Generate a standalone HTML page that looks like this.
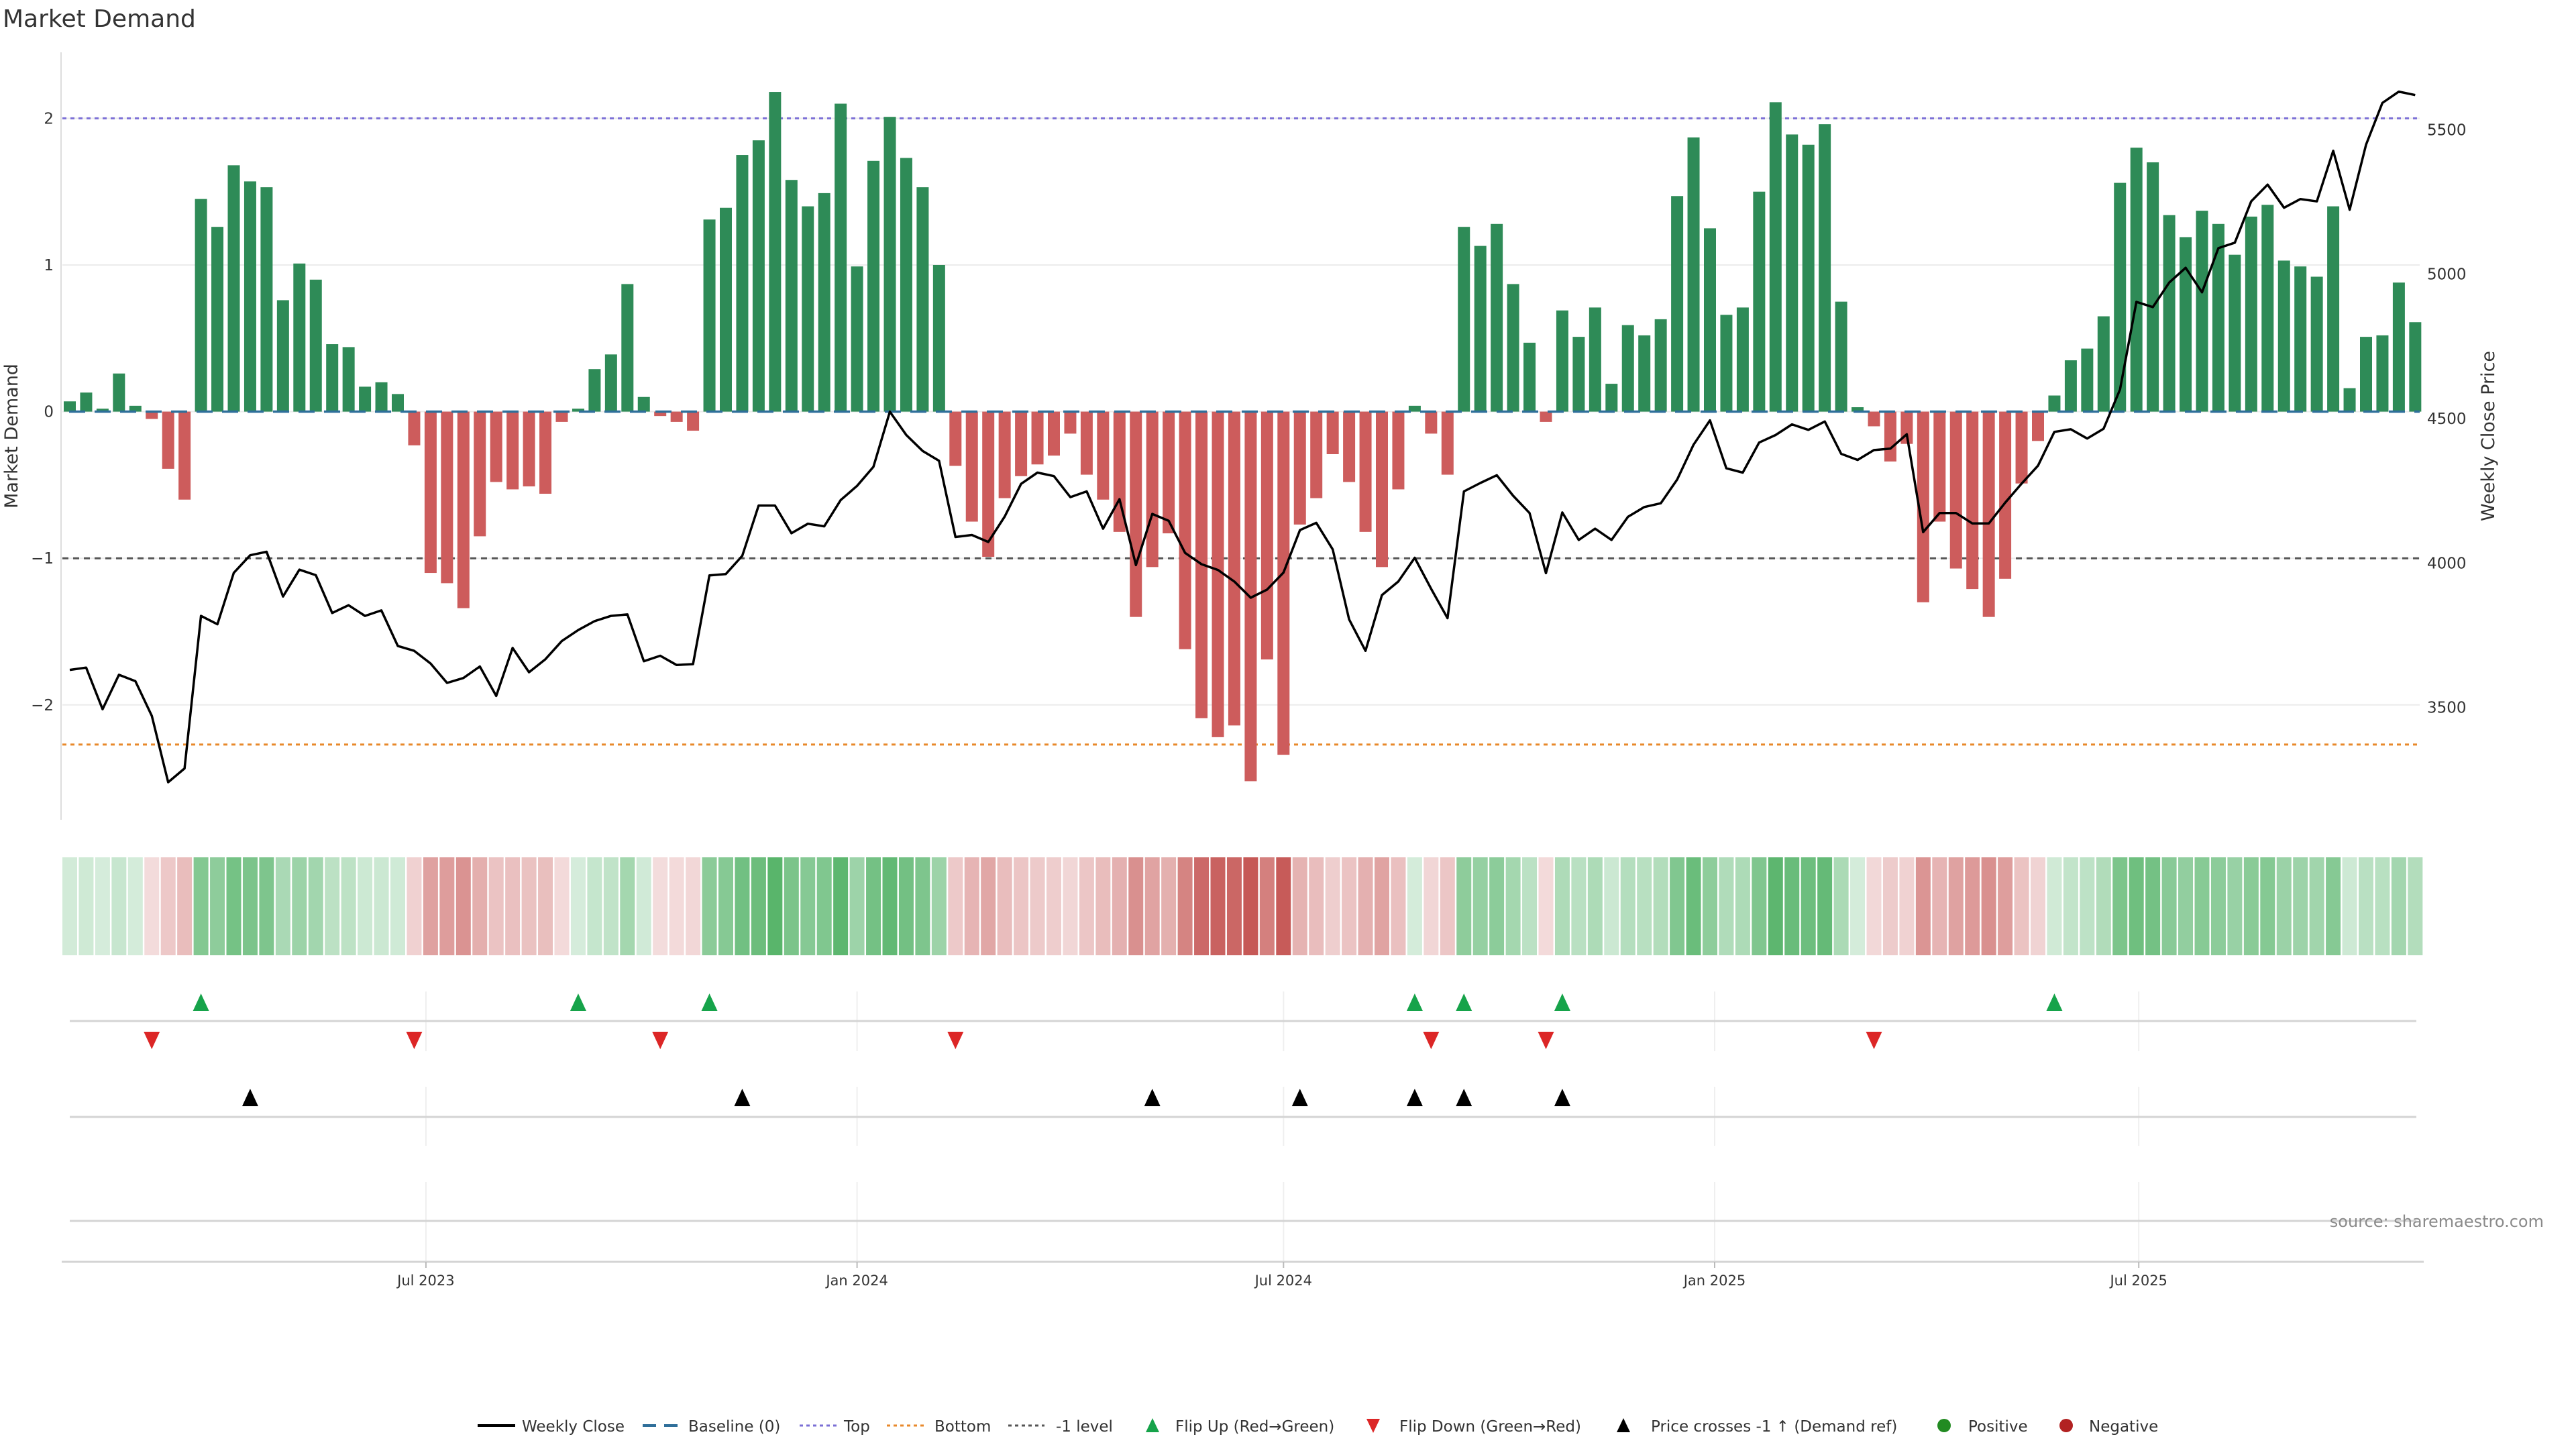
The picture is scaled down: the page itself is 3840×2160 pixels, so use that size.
<!DOCTYPE html>
<html><head><meta charset="utf-8"><style>
html,body{margin:0;padding:0;background:#fff;}
svg{display:block;font-family:"DejaVu Sans","Liberation Sans",sans-serif;}
</style></head><body>
<svg id="chart" width="3840" height="2160" viewBox="0 0 3840 2160" xmlns="http://www.w3.org/2000/svg">
<rect width="3840" height="2160" fill="#fff"/>
<text x="4" y="40" font-size="36" fill="#333">Market Demand</text>
<g id="main"></g>
<g id="heat"></g>
<g id="markers"></g>
<g id="legend"></g>
<text x="3792" y="1829" font-size="24" fill="#8a8a8a" text-anchor="end">source: sharemaestro.com</text>
</svg>
<script>
const demand = [0.07,0.13,0.02,0.26,0.04,-0.05,-0.39,-0.60,1.45,1.26,1.68,1.57,1.53,0.76,1.01,0.90,0.46,0.44,0.17,0.20,0.12,-0.23,-1.10,-1.17,-1.34,-0.85,-0.48,-0.53,-0.51,-0.56,-0.07,0.02,0.29,0.39,0.87,0.10,-0.03,-0.07,-0.13,1.31,1.39,
1.75,1.85,2.18,1.58,1.40,1.49,2.10,0.99,1.71,2.01,1.73,1.53,1.00,
-0.37,-0.75,-0.99,-0.59,-0.44,-0.36,-0.30,-0.15,-0.43,-0.60,-0.82,-1.40,-1.06,-0.83,-1.62,-2.09,-2.22,-2.14,-2.52,-1.69,-2.34,-0.77,-0.59,-0.29,
-0.48,-0.82,-1.06,-0.53,0.04,-0.15,-0.43,1.26,1.13,1.28,0.87,0.47,-0.07,0.69,0.51,0.71,0.19,0.59,0.52,0.63,1.47,1.87,1.25,0.66,0.71,1.50,2.11,1.89,1.82,1.96,0.75,0.03,-0.10,-0.34,-0.22,-1.30,-0.75,-1.07,-1.21,
-1.40,-1.14,-0.49,-0.20,0.11,0.35,0.43,0.65,1.56,1.80,1.70,1.34,1.19,1.37,1.28,1.07,1.33,1.41,1.03,0.99,0.92,1.40,0.16,0.51,0.52,0.88,0.61];
const price = [3630,3638,3494,3613,3591,3471,3241,3289,3817,3788,3966,4027,4039,3884,3977,3958,3827,3854,3817,3836,3713,3696,3652,3585,3602,3642,3540,3706,3622,3667,3730,3768,3799,3817,3822,3660,3679,3647,3650,3957,3962,
4025,4199,4199,4103,4136,4127,4218,4267,4333,4524,4443,4388,4354,4090,4097,4073,4161,4274,4313,4301,4228,4248,4119,4221,3993,4170,4146,4035,3996,3976,3936,3880,3908,3967,4114,4139,4047,
3805,3696,3889,3936,4018,3911,3809,4248,4277,4304,4233,4173,3965,4175,4080,4119,4080,4160,4194,4207,4289,4410,4494,4328,4313,4417,4443,4480,4461,4490,4378,4357,4391,4396,4446,4107,4173,4173,4137,
4137,4209,4275,4337,4454,4463,4431,4465,4601,4904,4886,4971,5022,4937,5090,5109,5252,5310,5230,5260,5252,5427,5223,5448,5593,5632,5620];
const flipUpIdx = [8,31,39,82,85,91,121];
const flipDownIdx = [5,21,36,54,83,90,110];
const crossIdx = [11,41,66,75,82,85,91];
const demandTicks = [2,1,0,-1,-2];
const demandTickLabels = ["2","1","0","\u22121","\u22122"];
const priceTicks = [3500,4000,4500,5000,5500];
const dateTicks = ["2023-07-01","2024-01-01","2024-07-01","2025-01-01","2025-07-01"];
const dateTickLabels = ["Jul 2023","Jan 2024","Jul 2024","Jan 2025","Jul 2025"];
const topLevel = 2, bottomLevel = -2.27, minusLevel = -1;

const NS = "http://www.w3.org/2000/svg";
const START = Date.UTC(2023,0,30);
const DAY = 86400000;
const PXDAY = 24.45/7;
function xDate(d){ return 104 + (d - START)/DAY*PXDAY; }
function xOf(i){ return xDate(START + i*7*DAY); }
function yD(v){ return 613.6 - v*218.6; }
function yP(p){ return 624 - (p-4500)*0.4306; }
const X0 = 93, X1 = 3607;
function mk(tag, attrs, parent){ const e=document.createElementNS(NS,tag); for(const k in attrs) e.setAttribute(k,attrs[k]); parent.appendChild(e); return e; }

const main = document.getElementById('main');
demandTicks.forEach((t,k)=>{
  const g = mk('line',{x1:X0,x2:X1,y1:yD(t),y2:yD(t),stroke:'#ececec','stroke-width':2},main);
  
  
  const lb = mk('text',{x:80,y:yD(t)+8,'font-size':23,fill:'#333','text-anchor':'end'},main);
  lb.textContent = demandTickLabels[k];
  
  
});
const sp = mk('line',{x1:X0-2,x2:X0-2,y1:78,y2:1222,stroke:'#ddd','stroke-width':2},main);


priceTicks.forEach(p=>{
  const lb = mk('text',{x:3618,y:yP(p)+8,'font-size':23,fill:'#333'},main);
  lb.textContent = String(p);
  
  
});
const yl = mk('text',{x:0,y:0,'font-size':27,fill:'#333','text-anchor':'middle',transform:'translate(26,650) rotate(-90)'},main);
yl.textContent='Market Demand';


const yr = mk('text',{x:0,y:0,'font-size':27,fill:'#333','text-anchor':'middle',transform:'translate(3718,650) rotate(-90)'},main);
yr.textContent='Weekly Close Price';



const lt = mk('line',{x1:X0,x2:X1,y1:yD(topLevel),y2:yD(topLevel),stroke:'#7b6fd6','stroke-width':3,'stroke-dasharray':'6 6'},main);


const lb2 = mk('line',{x1:X0,x2:X1,y1:yD(bottomLevel),y2:yD(bottomLevel),stroke:'#e8892b','stroke-width':3,'stroke-dasharray':'6 6'},main);


const lm = mk('line',{x1:X0,x2:X1,y1:yD(minusLevel),y2:yD(minusLevel),stroke:'#555','stroke-width':3,'stroke-dasharray':'9 7'},main);



demand.forEach((v,i)=>{
  const x = xOf(i), y0 = yD(0), y1 = yD(v);
  const r = mk('rect',{x:x-9,y:Math.min(y0,y1),width:18,height:Math.max(1,Math.abs(y1-y0)),fill:v>=0?'#2e8b57':'#cd5c5c'},main);
  
  
});
const bl = mk('line',{x1:X0+10,x2:X1,y1:yD(0),y2:yD(0),stroke:'#2f6f9a','stroke-width':3.5,'stroke-dasharray':'24 14'},main);


const pl = mk('polyline',{points:price.map((p,i)=>xOf(i).toFixed(1)+','+yP(p).toFixed(1)).join(' '),fill:'none',stroke:'#000','stroke-width':3.5,'stroke-linejoin':'round'},main);



const heat = document.getElementById('heat');
function mix(a,b,t){ return 'rgb('+a.map((c,k)=>Math.round(c+(b[k]-c)*t)).join(',')+')'; }
demand.forEach((v,i)=>{
  const t = Math.min(Math.abs(v)/2.4,1);
  const col = v>=0 ? mix([214,237,220],[76,175,96],t) : mix([244,222,222],[198,88,86],t);
  const c = mk('rect',{x:xOf(i)-11,y:1278,width:22,height:146,fill:col},heat);
  
  
});

const mg = document.getElementById('markers');
[[1478,1567],[1620,1708],[1762,1881]].forEach(r=>{
  dateTicks.forEach(d=>{
    const x = xDate(Date.parse(d));
    const g = mk('line',{x1:x,x2:x,y1:r[0],y2:r[1],stroke:'#efefef','stroke-width':2},mg);
    
    
  });
});
[1522,1665,1820].forEach(y=>{
  const l = mk('line',{x1:104,x2:3602,y1:y,y2:y,stroke:'#d4d4d4','stroke-width':3},mg);
  
  
});
const ax = mk('line',{x1:92,x2:3613,y1:1881,y2:1881,stroke:'#d4d4d4','stroke-width':3},mg);


dateTicks.forEach((d,k)=>{
  const x = xDate(Date.parse(d));
  const tk = mk('line',{x1:x,x2:x,y1:1881,y2:1890,stroke:'#bbb','stroke-width':2},mg);
  
  
  const t = mk('text',{x:x,y:1916,'font-size':21,fill:'#333','text-anchor':'middle'},mg);
  t.textContent = dateTickLabels[k];
  
  
});
function tri(x,y,up,fill,name){
  const pts = up ? [[x-12,y+13],[x+12,y+13],[x,y-13]] : [[x-12,y-13],[x+12,y-13],[x,y+13]];
  const p = mk('polygon',{points:pts.map(q=>q.join(',')).join(' '),fill:fill},mg);
  
  
}
flipUpIdx.forEach(i=>tri(xOf(i),1494,true,'#16a34a','flip-up-marker'));
flipDownIdx.forEach(i=>tri(xOf(i),1551,false,'#dc2626','flip-down-marker'));
crossIdx.forEach(i=>tri(xOf(i),1636,true,'#000','price-cross-marker'));

const lg = document.getElementById('legend');
const LY = 2125;
function ltext(x,s,name){ const t=mk('text',{x:x,y:LY+9,'font-size':23,fill:'#333'},lg); t.textContent=s;   }
function lline(x1,x2,col,dash,w,name){ const l=mk('line',{x1:x1,x2:x2,y1:LY,y2:LY,stroke:col,'stroke-width':w,'stroke-dasharray':dash},lg);   }
lline(712,768,'#000','none',4,'legend-weekly-close-swatch'); ltext(778,'Weekly Close','legend-weekly-close');
lline(958,1010,'#2f6f9a','20 12',4,'legend-baseline-swatch'); ltext(1026,'Baseline (0)','legend-baseline');
lline(1192,1248,'#7b6fd6','5 5',3,'legend-top-swatch'); ltext(1258,'Top','legend-top');
lline(1322,1378,'#e8892b','5 5',3,'legend-bottom-swatch'); ltext(1393,'Bottom','legend-bottom');
lline(1503,1557,'#555','5 5',3,'legend-minus-one-swatch'); ltext(1574,'-1 level','legend-minus-one');
function ltri(x,up,fill,name){ const pts = up?[[x-10,LY+10],[x+10,LY+10],[x,LY-11]]:[[x-10,LY-10],[x+10,LY-10],[x,LY+11]]; const p=mk('polygon',{points:pts.map(q=>q.join(',')).join(' '),fill:fill},lg);   }
ltri(1718,true,'#16a34a','legend-flip-up-swatch'); ltext(1752,'Flip Up (Red\u2192Green)','legend-flip-up');
ltri(2047,false,'#dc2626','legend-flip-down-swatch'); ltext(2086,'Flip Down (Green\u2192Red)','legend-flip-down');
ltri(2420,true,'#000','legend-price-cross-swatch'); ltext(2461,'Price crosses -1 \u2191 (Demand ref)','legend-price-cross');
const c1=mk('circle',{cx:2898,cy:LY,r:10,fill:'#228b22'},lg);  
ltext(2934,'Positive','legend-positive');
const c2=mk('circle',{cx:3080,cy:LY,r:10,fill:'#b22222'},lg);  
ltext(3114,'Negative','legend-negative');
</script>
</body></html>
